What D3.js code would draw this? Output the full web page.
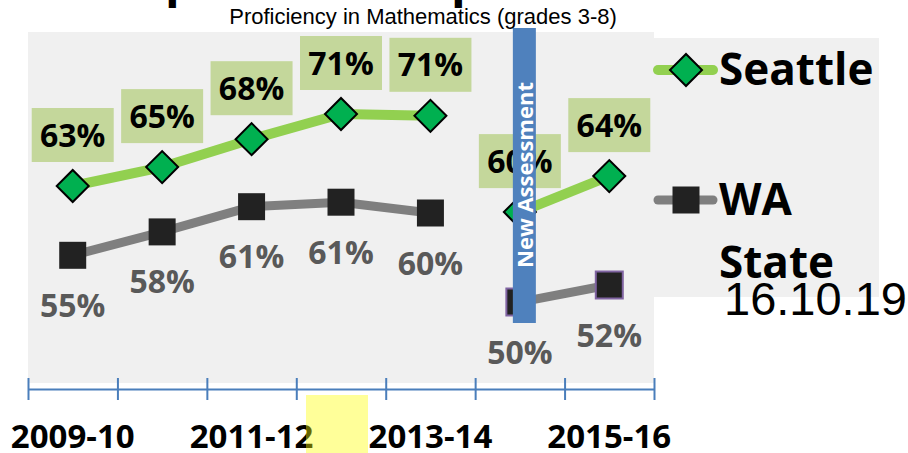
<!DOCTYPE html>
<html>
<head>
<meta charset="utf-8">
<script src="https://cdn.jsdelivr.net/npm/d3@7/dist/d3.min.js"></script>
<style>
  body { margin: 0; background: #fff; }
  svg { display: block; }
</style>
</head>
<body>
<svg id="chart" width="908" height="453"></svg>
<script>
/* data */
var years = ['2009-10', '2010-11', '2011-12', '2012-13', '2013-14', '2014-15', '2015-16'];
var seattle = [63.0, 65.1, 68.2, 71.0, 70.8, 60.1, 64.1];
var waState = [55.3, 57.9, 60.7, 61.2, 60.0, 50.1, 52.0];
var seattleLabels = ['63%', '65%', '68%', '71%', '71%', '60%', '64%'];
var waLabels = ['55%', '58%', '61%', '61%', '60%', '50%', '52%'];
var axisLabels = ['2009-10', '2011-12', '2013-14', '2015-16'];
var segments = [[0, 4], [5, 6]]; // line breaks at the new assessment
var seriesNames = ['Seattle', 'WA State'];
var subtitle = 'Proficiency in Mathematics (grades 3-8)';
var barText = 'New Assessment';
var dateText = '16.10.19';

var FONT = "'Open Sans', 'DejaVu Sans', sans-serif";
var svg = d3.select('#chart');

var x = d3.scaleBand().domain(years).range([28, 654]);
var y = d3.scaleLinear().domain([40, 80]).range([393, 33]);
var cx = function(i) { return x(years[i]) + x.bandwidth() / 2; };

// plot + legend backgrounds
svg.append('rect').attr('x', 28).attr('y', 32).attr('width', 626).attr('height', 351).attr('fill', '#f0f0f0');
svg.append('rect').attr('x', 654).attr('y', 38).attr('width', 225).attr('height', 259).attr('fill', '#f0f0f0');

var line = d3.line().x(function(d) { return cx(d); });

function drawSeries(values, color, width) {
	segments.forEach(function(s) {
		svg.append('path')
			.datum(d3.range(s[0], s[1] + 1))
			.attr('d', line.y(function(d) { return y(values[d]); }))
			.attr('fill', 'none')
			.attr('stroke', color)
			.attr('stroke-width', width)
			.attr('stroke-linejoin', 'round');
	});
}
drawSeries(waState, '#7f7f7f', 9);
drawSeries(seattle, '#92d050', 10);

var diamond = d3.symbol().type(d3.symbolSquare).size(512);
var square = d3.symbol().type(d3.symbolSquare).size(729);

// WA squares
svg.selectAll('.wa').data(waState).enter().append('path')
	.attr('class', 'wa')
	.attr('d', square)
	.attr('transform', function(d, i) { return 'translate(' + cx(i) + ',' + y(d) + ')'; })
	.attr('fill', '#222')
	.attr('stroke', function(d, i) { return i >= 5 ? '#8064a2' : 'none'; })
	.attr('stroke-width', 2);

// Seattle diamonds
svg.selectAll('.sea').data(seattle).enter().append('path')
	.attr('class', 'sea')
	.attr('d', diamond)
	.attr('transform', function(d, i) { return 'translate(' + cx(i) + ',' + y(d) + ') rotate(45)'; })
	.attr('fill', '#00b050')
	.attr('stroke', '#000')
	.attr('stroke-width', 2);

// Seattle labels
var sl = svg.selectAll('.sl').data(seattle).enter().append('g')
	.attr('transform', function(d, i) { return 'translate(' + cx(i) + ',' + (y(d) - 51) + ')'; });
sl.append('rect').attr('x', -41).attr('y', -27).attr('width', 82).attr('height', 54).attr('fill', '#c4d79b');
sl.append('text')
	.attr('text-anchor', 'middle').attr('dy', '0.36em')
	.style('font-family', FONT).style('font-weight', 700).style('font-size', '32px')
	.attr('fill', '#000')
	.text(function(d, i) { return seattleLabels[i]; });

// WA labels
svg.selectAll('.wl').data(waState).enter().append('text')
	.attr('x', function(d, i) { return cx(i); })
	.attr('y', function(d) { return y(d) + 50; })
	.attr('text-anchor', 'middle').attr('dy', '0.36em')
	.style('font-family', FONT).style('font-weight', 700).style('font-size', '32px')
	.attr('fill', '#595959')
	.text(function(d, i) { return waLabels[i]; });

// new assessment bar
var bx = cx(5) + 4.5;
svg.append('rect').attr('x', bx - 11.5).attr('y', 28).attr('width', 23).attr('height', 295).attr('fill', '#4f81bd');
svg.append('text')
	.attr('transform', 'translate(' + (bx + 8.5) + ',268) rotate(-90)')
	.style('font-family', FONT).style('font-weight', 700).style('font-size', '22px')
	.attr('fill', '#fff')
	.text(barText);

// category axis: ticks between categories
var xEdge = d3.scaleLinear().domain([0, years.length]).range(x.range());
var ax = svg.append('g').attr('transform', 'translate(0,389)')
	.call(d3.axisBottom(xEdge).ticks(years.length).tickFormat('').tickSizeOuter(0).tickSizeInner(11));
ax.select('.domain').attr('stroke', '#4a7ebb').attr('stroke-width', 2);
ax.selectAll('.tick line').attr('y1', -11).attr('stroke', '#4a7ebb').attr('stroke-width', 2);

var lab = svg.append('g').attr('transform', 'translate(0,389)')
	.call(d3.axisBottom(x).tickValues(axisLabels).tickSize(0));
lab.select('.domain').remove();
lab.selectAll('text')
	.attr('y', 59).attr('dy', 0)
	.attr('fill', '#000')
	.style('font-family', FONT).style('font-weight', 700).style('font-size', '33px');

// yellow highlight
svg.append('rect').attr('x', 306).attr('y', 395).attr('width', 62).attr('height', 58)
	.attr('fill', '#ffff00').attr('opacity', 0.4);

// legend
var leg = svg.selectAll('.leg').data(seriesNames).enter().append('g')
	.attr('transform', function(d, i) { return 'translate(686,' + (70 + i * 130) + ')'; });
leg.append('line').attr('x1', -28).attr('x2', 27)
	.attr('stroke', function(d, i) { return i ? '#7f7f7f' : '#92d050'; })
	.attr('stroke-width', function(d, i) { return i ? 9 : 10; })
	.attr('stroke-linecap', 'round');
leg.append('path')
	.attr('d', function(d, i) { return i ? square() : diamond(); })
	.attr('transform', function(d, i) { return i ? '' : 'rotate(45)'; })
	.attr('fill', function(d, i) { return i ? '#222' : '#00b050'; })
	.attr('stroke', function(d, i) { return i ? 'none' : '#000'; })
	.attr('stroke-width', 2);
leg.append('text')
	.attr('x', 33).attr('y', 15)
	.style('font-family', FONT).style('font-weight', 700).style('font-size', '44px')
	.attr('fill', '#000')
	.selectAll('tspan').data(function(d) { return d.split(' '); }).enter().append('tspan')
	.attr('x', 33).attr('dy', function(d, i) { return i ? 63 : 0; })
	.text(function(d) { return d; });

// date stamp
svg.append('text').attr('x', 724).attr('y', 315)
	.style('font-family', "'Liberation Sans', Arial, sans-serif").style('font-size', '47px')
	.attr('fill', '#000').text(dateText);

// subtitle and clipped title
svg.append('text').attr('x', 423).attr('y', 24).attr('text-anchor', 'middle')
	.style('font-family', "'Liberation Sans', Arial, sans-serif").style('font-size', '22px')
	.attr('fill', '#000').text(subtitle);
svg.append('text').attr('y', -4)
	.style('font-family', FONT).style('font-weight', 700).style('font-size', '48px')
	.selectAll('tspan').data([165, 451]).enter().append('tspan')
	.attr('x', function(d) { return d; }).text('p');
</script>
</body>
</html>
